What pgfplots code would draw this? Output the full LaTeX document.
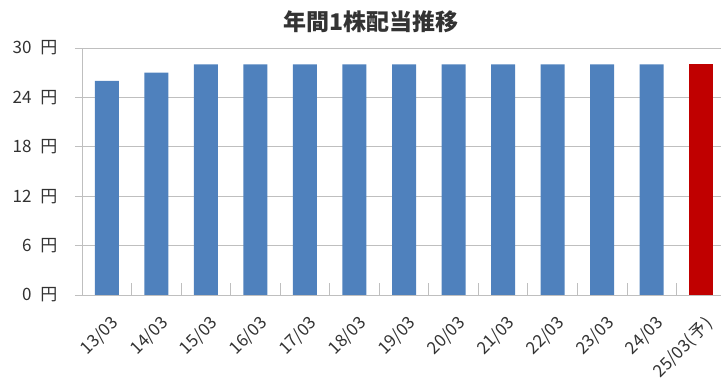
\documentclass[border=0pt]{standalone}
\usepackage{pgfplots}
\pgfplotsset{compat=1.18}
\usepackage{fontspec}
\setmainfont{Noto Sans CJK JP}
\definecolor{barblue}{RGB}{79,129,189}
\definecolor{barred}{RGB}{192,0,0}
\definecolor{gridgray}{RGB}{191,191,191}
\definecolor{txt}{RGB}{50,50,50}
\begin{document}
\begin{tikzpicture}
\useasboundingbox (0,0) rectangle (721pt,387pt);
\begin{axis}[
  at={(82pt,92pt)}, anchor=south west,
  scale only axis, width=644pt, height=247pt,
  xmin=-0.5, xmax=12.5, ymin=0, ymax=30,
  ybar, bar width=24pt, bar shift=0pt,
  xtick={0,...,12},
  xticklabels={13/03,14/03,15/03,16/03,17/03,18/03,19/03,20/03,21/03,22/03,23/03,24/03,25/03(\kern1.5pt予\kern1.5pt)},
  minor xtick={0.5,1.5,...,11.5},
  ytick={0,6,...,30},
  yticklabel={\pgfmathprintnumber{\tick}\hspace{9pt}円},
  /pgf/number format/assume math mode=true,
  ymajorgrids, grid style={gridgray, line width=0.8pt},
  axis line style={gridgray, line width=0.8pt},
  axis x line*=bottom, axis y line*=left,
  tick align=outside,
  major tick length=7pt,
  major x tick style={draw=none},
  major y tick style={gridgray, line width=0.8pt},
  minor tick length=12pt,
  minor x tick style={gridgray, line width=0.8pt, yshift=12pt},
  tick label style={font=\fontsize{17}{20}\selectfont, text=txt},
  x tick label style={xshift=3pt, yshift=-11pt, rotate=45, anchor=north east, inner sep=1pt},
  y tick label style={xshift=-14pt},
  clip=false,
]
\addplot[fill=barblue, draw=none] coordinates {(0,26) (1,27) (2,28) (3,28) (4,28) (5,28) (6,28) (7,28) (8,28) (9,28) (10,28) (11,28)};
\addplot[fill=barred, draw=none] coordinates {(12,28)};
\end{axis}
\node[font=\fontsize{23}{26}\selectfont\bfseries, text={rgb,255:red,51;green,51;blue,51}] at (371pt,365pt) {年間1株配当推移};
\end{tikzpicture}
\end{document}
